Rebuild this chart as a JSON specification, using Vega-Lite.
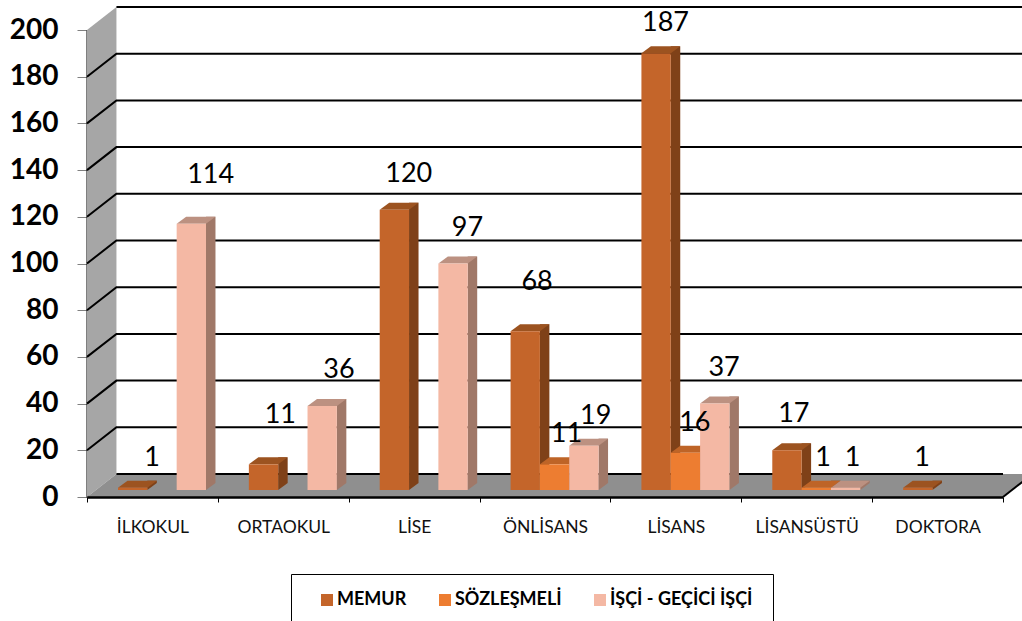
{
"$schema":"https://vega.github.io/schema/vega-lite/v6.json",
"width":916,"height":467,
"autosize":{"type":"none"},
"padding":{"left":87,"top":30,"right":19,"bottom":124},
"background":"white",
"config":{"font":"Lato","view":{"stroke":null},
 "axisY":{"tickCount":11,"labelFontSize":28,"labelFontWeight":"bold","labelColor":"#000000","labelPadding":19,"tickSize":10,"tickColor":"#808080","domainColor":"#000000","domainWidth":2,"grid":false,"zindex":1}},
"datasets":{
"bars":[
{"okul":"İLKOKUL","tur":"MEMUR","sayi":1},
{"okul":"İLKOKUL","tur":"İŞÇİ - GEÇİCİ İŞÇİ","sayi":114},
{"okul":"ORTAOKUL","tur":"MEMUR","sayi":11},
{"okul":"ORTAOKUL","tur":"İŞÇİ - GEÇİCİ İŞÇİ","sayi":36},
{"okul":"LİSE","tur":"MEMUR","sayi":120},
{"okul":"LİSE","tur":"İŞÇİ - GEÇİCİ İŞÇİ","sayi":97},
{"okul":"ÖNLİSANS","tur":"MEMUR","sayi":68},
{"okul":"ÖNLİSANS","tur":"SÖZLEŞMELİ","sayi":11},
{"okul":"ÖNLİSANS","tur":"İŞÇİ - GEÇİCİ İŞÇİ","sayi":19},
{"okul":"LİSANS","tur":"MEMUR","sayi":187},
{"okul":"LİSANS","tur":"SÖZLEŞMELİ","sayi":16},
{"okul":"LİSANS","tur":"İŞÇİ - GEÇİCİ İŞÇİ","sayi":37},
{"okul":"LİSANSÜSTÜ","tur":"MEMUR","sayi":17},
{"okul":"LİSANSÜSTÜ","tur":"SÖZLEŞMELİ","sayi":1},
{"okul":"LİSANSÜSTÜ","tur":"İŞÇİ - GEÇİCİ İŞÇİ","sayi":1},
{"okul":"DOKTORA","tur":"MEMUR","sayi":1}
],
"grid":[
{"k":20,"a":0,"b":20},{"k":20,"a":0.225,"b":29.85},{"k":20,"a":7.225,"b":29.85},
{"k":40,"a":0,"b":40},{"k":40,"a":0.225,"b":49.85},{"k":40,"a":7.225,"b":49.85},
{"k":60,"a":0,"b":60},{"k":60,"a":0.225,"b":69.85},{"k":60,"a":7.225,"b":69.85},
{"k":80,"a":0,"b":80},{"k":80,"a":0.225,"b":89.85},{"k":80,"a":7.225,"b":89.85},
{"k":100,"a":0,"b":100},{"k":100,"a":0.225,"b":109.85},{"k":100,"a":7.225,"b":109.85},
{"k":120,"a":0,"b":120},{"k":120,"a":0.225,"b":129.85},{"k":120,"a":7.225,"b":129.85},
{"k":140,"a":0,"b":140},{"k":140,"a":0.225,"b":149.85},{"k":140,"a":7.225,"b":149.85},
{"k":160,"a":0,"b":160},{"k":160,"a":0.225,"b":169.85},{"k":160,"a":7.225,"b":169.85},
{"k":180,"a":0,"b":180},{"k":180,"a":0.225,"b":189.85},{"k":180,"a":7.225,"b":189.85},
{"k":200,"a":0.225,"b":209.85},{"k":200,"a":7.225,"b":209.85},
{"k":0,"a":0.225,"b":9.85},{"k":0,"a":7,"b":9.85},
{"k":-1,"a":7,"b":0},{"k":-1,"a":7.225,"b":9.85}
]
},
"layer":[
{
"layer":[
{"data":{"values":[{"a":0,"b":0,"c":200},{"a":0.225,"b":9.85,"c":209.85}]},
 "mark":{"type":"area","orient":"vertical","color":"#a6a6a6"},
 "encoding":{"x":{"field":"a","type":"quantitative","scale":{"domain":[0,7],"nice":false,"zero":false},"axis":null},
 "y":{"field":"b","type":"quantitative","scale":{"domain":[0,200],"nice":false},"axis":{"title":null}},"y2":{"field":"c"}}},
{"data":{"values":[{"a":0,"b":0,"c":0},{"a":0.225,"b":9.85,"c":0},{"a":7,"b":9.85,"c":0},{"a":7.225,"b":9.85,"c":9.85}]},
 "mark":{"type":"area","orient":"vertical","color":"#8f8f8f"},
 "encoding":{"x":{"field":"a","type":"quantitative","axis":null},
 "y":{"field":"b","type":"quantitative","axis":{"title":null}},"y2":{"field":"c"}}},
{"data":{"name":"grid"},
 "mark":{"type":"line","color":"#000000","strokeWidth":2,"clip":false},
 "encoding":{"x":{"field":"a","type":"quantitative","axis":null},
 "y":{"field":"b","type":"quantitative","axis":{"title":null}},"detail":{"field":"k"},"order":{"field":"a"}}}
]
},
{
"data":{"name":"bars"},
"layer":[
{"mark":{"type":"bar","width":9.5,"yOffset":-14,"y2Offset":-14},
 "encoding":{"x":{"field":"okul","type":"nominal","sort":null},
 "xOffset":{"field":"tur","type":"nominal","sort":null,"scale":{"domain":["MEMUR","SÖZLEŞMELİ","İŞÇİ - GEÇİCİ İŞÇİ"],"range":[50.4,138.4]}},
 "y":{"field":"sayi","type":"quantitative","axis":{"title":null}},
 "fill":{"field":"tur","type":"nominal","legend":null,"scale":{"domain":["MEMUR","SÖZLEŞMELİ","İŞÇİ - GEÇİCİ İŞÇİ"],"range":["#7f4118","#8e4b1d","#a07868"]}}}},
{"mark":{"type":"point","filled":true,"opacity":1,"size":4,"shape":"M14.67,-7L24.17,-14L14.67,-14Z"},
 "encoding":{"x":{"field":"okul","type":"nominal","sort":null},
 "xOffset":{"field":"tur","type":"nominal","sort":null,"scale":{"domain":["MEMUR","SÖZLEŞMELİ","İŞÇİ - GEÇİCİ İŞÇİ"],"range":[31,119]}},
 "y":{"datum":0,"type":"quantitative","axis":{"title":null}},
 "fill":{"field":"tur","type":"nominal","legend":null,"scale":{"domain":["MEMUR","SÖZLEŞMELİ","İŞÇİ - GEÇİCİ İŞÇİ"],"range":["#7f4118","#8e4b1d","#a07868"]}}}},
{"mark":{"type":"point","filled":true,"opacity":1,"size":4,"shape":"M-14.67,-7L14.67,-7L24.17,-14L-5.17,-14Z"},
 "encoding":{"x":{"field":"okul","type":"nominal","sort":null},
 "xOffset":{"field":"tur","type":"nominal","sort":null,"scale":{"domain":["MEMUR","SÖZLEŞMELİ","İŞÇİ - GEÇİCİ İŞÇİ"],"range":[31,119]}},
 "y":{"field":"sayi","type":"quantitative","axis":{"title":null}},
 "fill":{"field":"tur","type":"nominal","legend":null,"scale":{"domain":["MEMUR","SÖZLEŞMELİ","İŞÇİ - GEÇİCİ İŞÇİ"],"range":["#9c5320","#be6427","#bc9181"]}}}},
{"mark":{"type":"bar","yOffset":-7,"y2Offset":-7},
 "encoding":{"x":{"field":"okul","type":"nominal","sort":null,
  "scale":{"domain":["İLKOKUL","ORTAOKUL","LİSE","ÖNLİSANS","LİSANS","LİSANSÜSTÜ","DOKTORA"],"paddingInner":0,"paddingOuter":0},
  "axis":{"title":null,"labelAngle":0,"labelAlign":"center","labelFontSize":17.5,"labelColor":"#111111","labelPadding":25,"tickBand":"extent","tickSize":5,"tickColor":"#000000","domainColor":"#000000","domainWidth":2.5,"zindex":1,"grid":false}},
 "xOffset":{"field":"tur","type":"nominal","sort":null,"scale":{"domain":["MEMUR","SÖZLEŞMELİ","İŞÇİ - GEÇİCİ İŞÇİ"],"range":[31,119]}},
 "y":{"field":"sayi","type":"quantitative","axis":{"title":null}},
 "color":{"field":"tur","type":"nominal","sort":null,"title":"\u00a0",
  "scale":{"domain":["MEMUR","SÖZLEŞMELİ","İŞÇİ - GEÇİCİ İŞÇİ"],"range":["#c4652a","#ed7d31","#f4b8a4"]},
  "legend":{"orient":"none","legendX":204,"legendY":544,"direction":"horizontal","columns":3,"symbolType":"square","symbolSize":144,"symbolStrokeWidth":0,"labelFontSize":18,"labelFontWeight":"bold","labelColor":"#000000","columnPadding":19,"labelOffset":1,"padding":17,"symbolOffset":10,"strokeColor":"#000000","fillColor":"white","labelLimit":200,"titleOrient":"right","titlePadding":4,"titleFontSize":6}}}}
],
"resolve":{"scale":{"xOffset":"independent","fill":"independent"}}
},
{
"data":{"name":"bars"},
"encoding":{"x":{"field":"okul","type":"nominal","sort":null,"scale":{"domain":["İLKOKUL","ORTAOKUL","LİSE","ÖNLİSANS","LİSANS","LİSANSÜSTÜ","DOKTORA"],"range":[19.3,917.9],"paddingInner":0,"paddingOuter":0},"axis":null},
 "xOffset":{"field":"tur","type":"nominal","sort":null,"scale":{"domain":["MEMUR","SÖZLEŞMELİ","İŞÇİ - GEÇİCİ İŞÇİ"],"range":[31,119]}},
 "y":{"field":"sayi","type":"quantitative","axis":{"title":null}},
 "text":{"field":"sayi","type":"quantitative"}},
"layer":[
{"transform":[{"filter":"datum.sayi==120||datum.sayi==97||datum.sayi==36||datum.sayi==37||datum.sayi==17"}],
 "mark":{"type":"text","font":"Lato","fontSize":27,"color":"#000000","baseline":"middle","dy":-43}},
{"transform":[{"filter":"datum.sayi==187||datum.sayi==19||datum.sayi==16||datum.sayi==1||(datum.sayi==11&&datum.okul=='ÖNLİSANS')"}],
 "mark":{"type":"text","font":"Lato","fontSize":27,"color":"#000000","baseline":"middle","dy":-37}},
{"transform":[{"filter":"datum.sayi==114||datum.sayi==68||(datum.sayi==11&&datum.okul=='ORTAOKUL')"}],
 "mark":{"type":"text","font":"Lato","fontSize":27,"color":"#000000","baseline":"middle","dy":-56}}
]
}
],
"resolve":{"scale":{"x":"independent","xOffset":"independent"}}
}
